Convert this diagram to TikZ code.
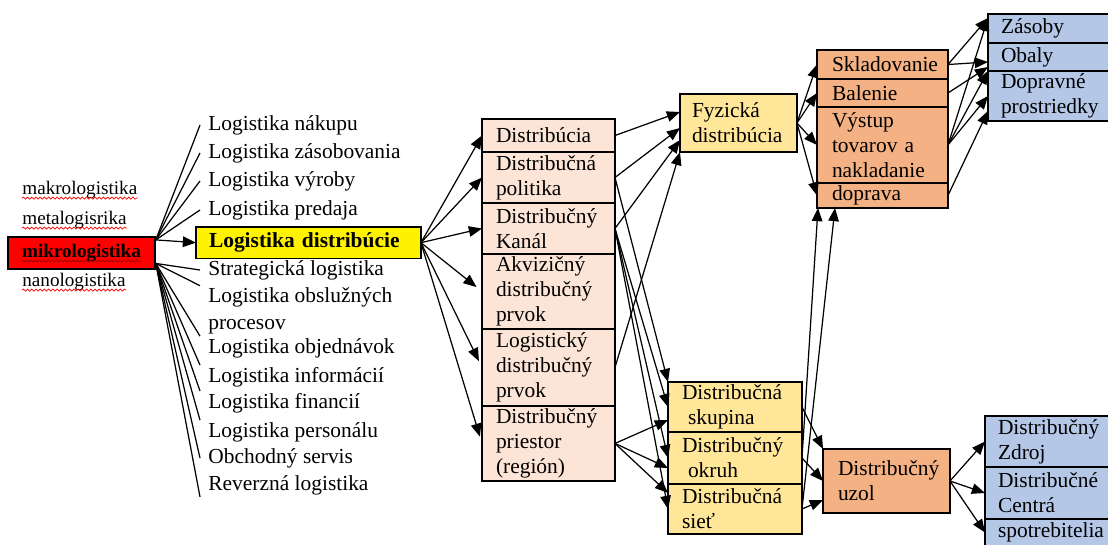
\documentclass[tikz,border=0pt]{standalone}
\usepackage{fontspec}
\setmainfont{Liberation Serif}
\usetikzlibrary{positioning,arrows.meta,decorations.pathmorphing}
\definecolor{pinkbox}{HTML}{FCE4D6}
\definecolor{goldbox}{HTML}{FFE699}
\definecolor{orangebox}{HTML}{F4B183}
\definecolor{bluebox}{HTML}{B4C7E7}

\begin{document}
\begin{tikzpicture}[x=0.02cm, y=-0.02cm,
    every node/.style={font=\fontsize{12.2}{14.2}\selectfont},
    item/.style={anchor=west, inner xsep=0.16cm, inner ysep=1pt, align=left},
    small/.style={anchor=west, inner sep=0pt, font=\fontsize{10.9}{13}\selectfont},
    cell/.style={draw=black, line width=0.9pt, outer sep=0pt, anchor=north west, align=left, inner ysep=0pt},
    pinkcell/.style={cell, fill=pinkbox, inner xsep=0.28cm, text width=2.1cm},
    goldcell/.style={cell, fill=goldbox, inner xsep=0.28cm, text width=2.12cm},
    orangecell/.style={cell, fill=orangebox, inner xsep=0.3cm, text width=2.02cm},
    bluecell/.style={cell, fill=bluebox, inner xsep=0.26cm, text width=2.2cm},
    ln/.style={line width=0.7pt},
    arr/.style={ln, -{Triangle[length=7.5pt,width=6pt]}},
    wavy/.style={red, line width=0.4pt, decorate, decoration={snake, amplitude=0.6pt, segment length=2.4pt}}
]
\useasboundingbox (0,0) rectangle (1108,544);
\clip (0,0) rectangle (1108,544);

% levels of logistics
\node[small] (makro) at (22,190) {makrologistika};
\node[small] (meta) at (22,220) {metalogisrika};
\node[draw, fill=red, line width=0.9pt, minimum width=2.94cm, minimum height=0.64cm,
      font=\fontsize{10.9}{13}\selectfont\bfseries] (mikro) at (81.5,253) {mikrologistika};
\node[small] (nano) at (22,282) {nanologistika};
\foreach \n in {makro,meta,nano}
  \draw[wavy] ([yshift=-2pt]\n.base west) -- ([yshift=-2pt]\n.base east);
\draw[wavy, red!60!black] ([xshift=-1.2cm,yshift=-2pt]mikro.base) -- ([xshift=1.2cm,yshift=-2pt]mikro.base);

% parts of micrologistics
\foreach \t/\y [count=\i] in {Logistika nákupu/125, Logistika zásobovania/153,
    Logistika výroby/181, Logistika predaja/210}
  \node[item] (up\i) at (200,\y) {\t};
\node[draw, fill=yellow, line width=0.9pt, outer sep=0pt, anchor=north west, minimum height=0.58cm,
      text width=3.98cm, inner xsep=0.26cm, align=left,
      font=\fontsize{12.2}{14.2}\selectfont\bfseries] (ldist) at (196,227) {Logistika distribúcie};
\node[item] (strat) at (200,270) {Strategická logistika};
\node[item, font=\fontsize{12.2}{15.3}\selectfont] (obsl) at (200,311) {Logistika obslužných\\procesov};
\node[item] (objed) at (200,348) {Logistika objednávok};
\node[item] (info) at (200,377) {Logistika informácií};
\node[item] (fin) at (200,403) {Logistika financií};
\node[item] (pers) at (200,432) {Logistika personálu};
\node[item] (obch) at (200,458) {Obchodný servis};
\node[item] (rev) at (200,485) {Reverzná logistika};

\foreach \i in {1,...,4}
  \draw[ln] (mikro.10) -- (up\i.west);
\draw[arr] (mikro.10) -- (ldist.west);
\foreach \n/\a in {strat/west, obsl/north west, objed/north west, info/north west,
    fin/north west, pers/north west, obch/west, rev/south west}
  \draw[ln] (mikro.-8) -- (\n.\a);

% distribution
\node[pinkcell, minimum height=0.66cm] (distr) at (482,119) {Distribúcia};
\node[pinkcell, minimum height=1.02cm, below=0pt of distr] (polit) {Distribučná\\politika};
\node[pinkcell, minimum height=1.02cm, below=0pt of polit] (kanal) {Distribučný\\Kanál};
\node[pinkcell, minimum height=1.5cm, below=0pt of kanal] (akviz) {Akvizičný\\distribučný\\prvok};
\node[pinkcell, minimum height=1.54cm, below=0pt of akviz] (logis) {Logistický\\distribučný\\prvok};
\node[pinkcell, minimum height=1.5cm, below=0pt of logis] (priest) {Distribučný\\priestor\\(región)};

\foreach \n in {distr,polit,kanal}
  \draw[arr] (ldist.east) -- (\n.west);
\foreach \n in {akviz,logis,priest}
  \draw[arr, shorten >=0.14cm] (ldist.east) -- (\n.west);

% physical distribution
\node[cell, fill=goldbox, inner xsep=0.24cm, text width=1.86cm, minimum height=1.16cm] (fyz) at (680,94) {Fyzická\\distribúcia};

\node[goldcell, minimum height=1cm] (skup) at (668,382) {Distribučná\\\hspace{0.12cm}skupina};
\node[goldcell, minimum height=1.04cm, below=0pt of skup] (okruh) {Distribučný\\\hspace{0.12cm}okruh};
\node[goldcell, minimum height=1cm, below=0pt of okruh] (siet) {Distribučná\\sieť};

\draw[arr] (distr.east) -- ([yshift=0.22cm]fyz.west);
\draw[arr] (polit.east) -- ([yshift=-0.1cm]fyz.west);
\draw[arr] (kanal.east) -- ([yshift=-0.34cm]fyz.west);
\draw[arr] (logis.east) -- (fyz.south west);

\draw[arr] (polit.east) -- (skup.north west);
\foreach \n in {skup,okruh,siet}
  \draw[arr] (kanal.east) -- (\n.west);
\draw[arr] (priest.east) -- ([yshift=-0.26cm]skup.west);
\draw[arr] (priest.east) -- ([yshift=-0.2cm]okruh.west);
\draw[arr] (priest.east) -- ([yshift=0.32cm]siet.west);

% warehouse chain
\node[orangecell, minimum height=0.58cm] (skl) at (817,50) {Skladovanie};
\node[orangecell, minimum height=0.56cm, below=0pt of skl] (bal) {Balenie};
\node[orangecell, minimum height=1.52cm, below=0pt of bal] (vyst) {Výstup\\tovarov a\\nakladanie};
\node[orangecell, minimum height=0.5cm, below=0pt of vyst] (dopr) {doprava};

\foreach \n in {skl,bal,vyst,dopr}
  \draw[arr] (fyz.east) -- (\n.west);
\draw[arr] (okruh.east) -- ([xshift=0.02cm]dopr.south west);
\draw[arr] (siet.east) -- ([xshift=0.36cm]dopr.south west);

\node[cell, fill=orangebox, inner xsep=0.3cm, text width=1.94cm, minimum height=1.28cm] (uzol) at (823,449) {Distribučný\\uzol};
\draw[arr] (skup.east) -- (uzol.north west);
\draw[arr] (okruh.east) -- (uzol.west);
\draw[arr] (siet.east) -- ([yshift=-0.38cm]uzol.west);

% resources
\node[bluecell, minimum height=0.58cm] (zas) at (988,14) {Zásoby};
\node[bluecell, minimum height=0.56cm, below=0pt of zas] (obaly) {Obaly};
\node[bluecell, minimum height=1cm, below=0pt of obaly] (dopv) {Dopravné\\prostriedky};

\draw[arr] (skl.east) -- ([yshift=-0.08cm]zas.north west);
\draw[arr] (skl.east) -- ([yshift=-0.1cm]obaly.west);
\draw[arr] (bal.east) -- ([yshift=0.08cm]obaly.south west);
\draw[arr] (vyst.east) -- ([yshift=-0.08cm]zas.north west);
\draw[arr] (vyst.east) -- (obaly.south west);
\draw[arr] (vyst.east) -- (dopv.west);
\draw[arr] (dopr.east) -- ([yshift=-0.3cm]dopv.west);

\node[bluecell, minimum height=1.02cm] (zdroj) at (985,416) {Distribučný\\Zdroj};
\node[bluecell, minimum height=1.04cm, below=0pt of zdroj] (centra) {Distribučné\\Centrá};
\node[bluecell, minimum height=0.54cm, below=0pt of centra] (spot) {spotrebitelia};

\foreach \n in {zdroj,centra,spot}
  \draw[arr] (uzol.east) -- (\n.west);
\end{tikzpicture}
\end{document}
